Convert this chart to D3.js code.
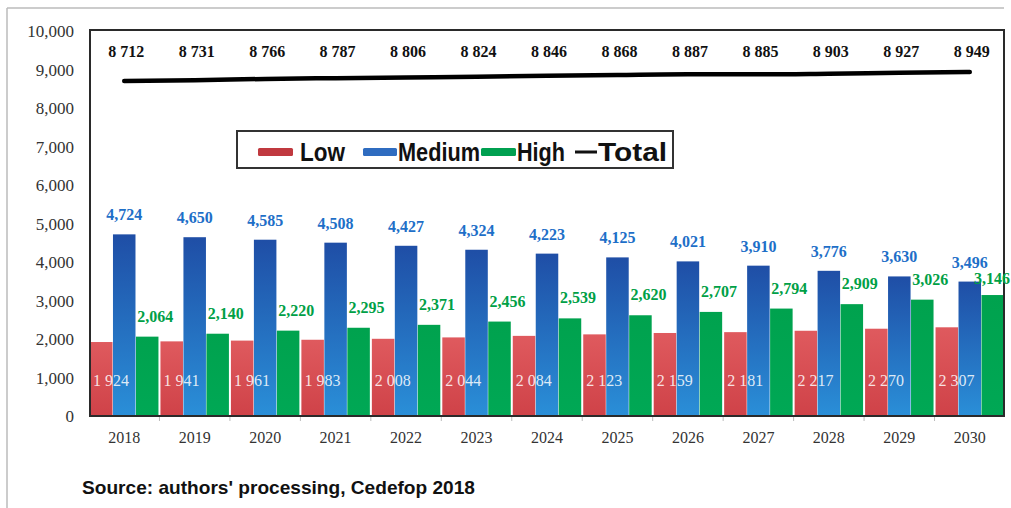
<!DOCTYPE html>
<html><head><meta charset="utf-8">
<script src="https://cdn.jsdelivr.net/npm/d3@7"></script>
<style>
html,body{margin:0;padding:0;background:#fff;}
svg{display:block;}
</style></head>
<body>
<svg id="chart" width="1011" height="508"></svg>
<script>
const years = ["2018","2019","2020","2021","2022","2023","2024","2025","2026","2027","2028","2029","2030"];
const low = [1924,1941,1961,1983,2008,2044,2084,2123,2159,2181,2217,2270,2307];
const medium = [4724,4650,4585,4508,4427,4324,4223,4125,4021,3910,3776,3630,3496];
const high = [2064,2140,2220,2295,2371,2456,2539,2620,2707,2794,2909,3026,3146];
const total = [8712,8731,8766,8787,8806,8824,8846,8868,8887,8885,8903,8927,8949];
const yTicks = [0,1000,2000,3000,4000,5000,6000,7000,8000,9000,10000];
const seriesNames = ["Low","Medium","High","Total"];

const svg = d3.select("#chart");
const defs = svg.append("defs");
function grad(id, c1, c2){
  const g = defs.append("linearGradient").attr("id",id).attr("x1",0).attr("y1",0).attr("x2",0).attr("y2",1);
  g.append("stop").attr("offset","0%").attr("stop-color",c1);
  g.append("stop").attr("offset","100%").attr("stop-color",c2);
}
grad("gLow","#df5a5e","#cf4248");
grad("gMed","#1f4ea6","#2a8fd8");
grad("gHigh","#00a24e","#00a855");

// outer frame
svg.append("line").attr("x1",7).attr("x2",1004).attr("y1",8).attr("y2",8).attr("stroke","#bbb").attr("stroke-width",1.5);
svg.append("line").attr("x1",7).attr("x2",7).attr("y1",8).attr("y2",508).attr("stroke","#bbb").attr("stroke-width",1.5);

const x = d3.scaleBand().domain(years).range([89,1005]).paddingInner(0).paddingOuter(0);
const y = d3.scaleLinear().domain([0,10000]).range([416,31.5]);
const sub = d3.scaleBand().domain(["Low","Medium","High"]).range([1, x.bandwidth()-1]).paddingInner(0.02);

const serif = "'Liberation Serif','Times New Roman',Times,serif";
const narrow = "'Liberation Sans',Arial,sans-serif";

// y axis labels
const yAxis = d3.axisLeft(y).tickValues(yTicks).tickFormat(d3.format(",")).tickSize(0).tickPadding(0);
const ya = svg.append("g").attr("transform","translate(74,0)").call(yAxis);
ya.select(".domain").remove();
ya.selectAll("text").attr("font-family",serif).attr("font-size",17).attr("fill","#333");

// x axis
const xAxis = d3.axisBottom(x).tickSize(0).tickPadding(16);
const xa = svg.append("g").attr("transform","translate(0,416)").call(xAxis);
xa.select(".domain").remove();
xa.selectAll("text").attr("font-family",serif).attr("font-size",16).attr("fill","#333");
// separator ticks
svg.append("g").selectAll("line").data(years.slice(1)).join("line")
  .attr("x1",d=>x(d)).attr("x2",d=>x(d)).attr("y1",416).attr("y2",421).attr("stroke","#bbb").attr("stroke-width",1);

// bars
const series = [
  {name:"Low", vals:low, fill:"url(#gLow)"},
  {name:"Medium", vals:medium, fill:"url(#gMed)"},
  {name:"High", vals:high, fill:"url(#gHigh)"}
];
series.forEach(s=>{
  svg.append("g").selectAll("rect").data(s.vals).join("rect")
    .attr("x",(d,i)=>x(years[i])+sub(s.name))
    .attr("width",sub.bandwidth())
    .attr("y",d=>y(d)).attr("height",d=>y(0)-y(d))
    .attr("fill",s.fill);
});

// plot box
svg.append("rect").attr("x",90).attr("y",30).attr("width",914).attr("height",386)
  .attr("fill","none").attr("stroke","#2a2a2a").attr("stroke-width",2);

const spaceFmt = d=>{const s=String(d); return s.slice(0,s.length-3)+" "+s.slice(-3);};

// low labels
svg.append("g").selectAll("text").data(low).join("text")
  .attr("x",(d,i)=>x(years[i])+sub("Low")+3).attr("y",y(0)-30)
  .attr("font-family",serif).attr("font-size",16).attr("fill","#fff").attr("fill-opacity",0.85)
  .text(d=>spaceFmt(d));
// medium labels
svg.append("g").selectAll("text").data(medium).join("text")
  .attr("x",(d,i)=>x(years[i])+sub("Medium")+sub.bandwidth()/2).attr("y",d=>y(d)-14)
  .attr("text-anchor","middle").attr("font-family",serif).attr("font-weight","bold").attr("font-size",16)
  .attr("fill","#1e6fc8").text(d=>d3.format(",")(d));
// high labels
const lastH = high.length-1;
svg.append("g").selectAll("text").data(high).join("text")
  .attr("x",(d,i)=> i===lastH ? 1010 : x(years[i])+sub("High")+sub.bandwidth()/2+8)
  .attr("y",(d,i)=> i===lastH ? y(d)-11 : y(d)-15)
  .attr("text-anchor",(d,i)=> i===lastH ? "end" : "middle")
  .attr("font-family",serif).attr("font-weight","bold").attr("font-size",16)
  .attr("fill","#00a046").text(d=>d3.format(",")(d));

// total line
const line = d3.line().x((d,i)=>x(years[i])+x.bandwidth()/2).y(d=>y(d)).curve(d3.curveMonotoneX);
svg.append("path").datum(total).attr("d",line).attr("fill","none").attr("stroke","#000").attr("stroke-width",4.5).attr("stroke-linecap","round");
// total labels
svg.append("g").selectAll("text").data(total).join("text")
  .attr("x",(d,i)=>x(years[i])+x.bandwidth()/2+2).attr("y",57)
  .attr("text-anchor","middle").attr("font-family",serif).attr("font-weight","bold").attr("font-size",16)
  .attr("fill","#111").text(d=>spaceFmt(d));

// legend
const lg = svg.append("g");
lg.append("rect").attr("x",237).attr("y",131).attr("width",436).attr("height",37).attr("fill","#fff").attr("stroke","#333").attr("stroke-width",2);
const legItems = [
  {name:seriesNames[0], color:"#c0393f", sx:258, sw:35, tx:300, tw:45, type:"rect"},
  {name:seriesNames[1], color:"#2f6cc0", sx:363, sw:34, tx:398, tw:82, type:"rect"},
  {name:seriesNames[2], color:"#00a050", sx:481, sw:35, tx:517, tw:48, type:"rect"},
  {name:seriesNames[3], color:"#111", sx:575, sw:22, tx:598, tw:69, type:"line"}
];
legItems.forEach(it=>{
  if(it.type==="rect") lg.append("rect").attr("x",it.sx).attr("y",148).attr("width",it.sw).attr("height",8).attr("fill",it.color).attr("rx",1.5);
  else lg.append("rect").attr("x",it.sx).attr("y",150.5).attr("width",it.sw).attr("height",3).attr("fill",it.color);
  lg.append("text").attr("x",it.tx).attr("y",161).attr("font-family",narrow).attr("font-weight","bold").attr("font-size",26)
    .attr("textLength",it.tw).attr("lengthAdjust","spacingAndGlyphs").attr("fill","#111").text(it.name);
});

// source
svg.append("text").attr("x",82).attr("y",494).attr("font-family",narrow).attr("font-weight","bold").attr("font-size",19)
  .attr("textLength",393).attr("lengthAdjust","spacingAndGlyphs").attr("fill","#111").text("Source: authors' processing, Cedefop 2018");
</script>
</body></html>
